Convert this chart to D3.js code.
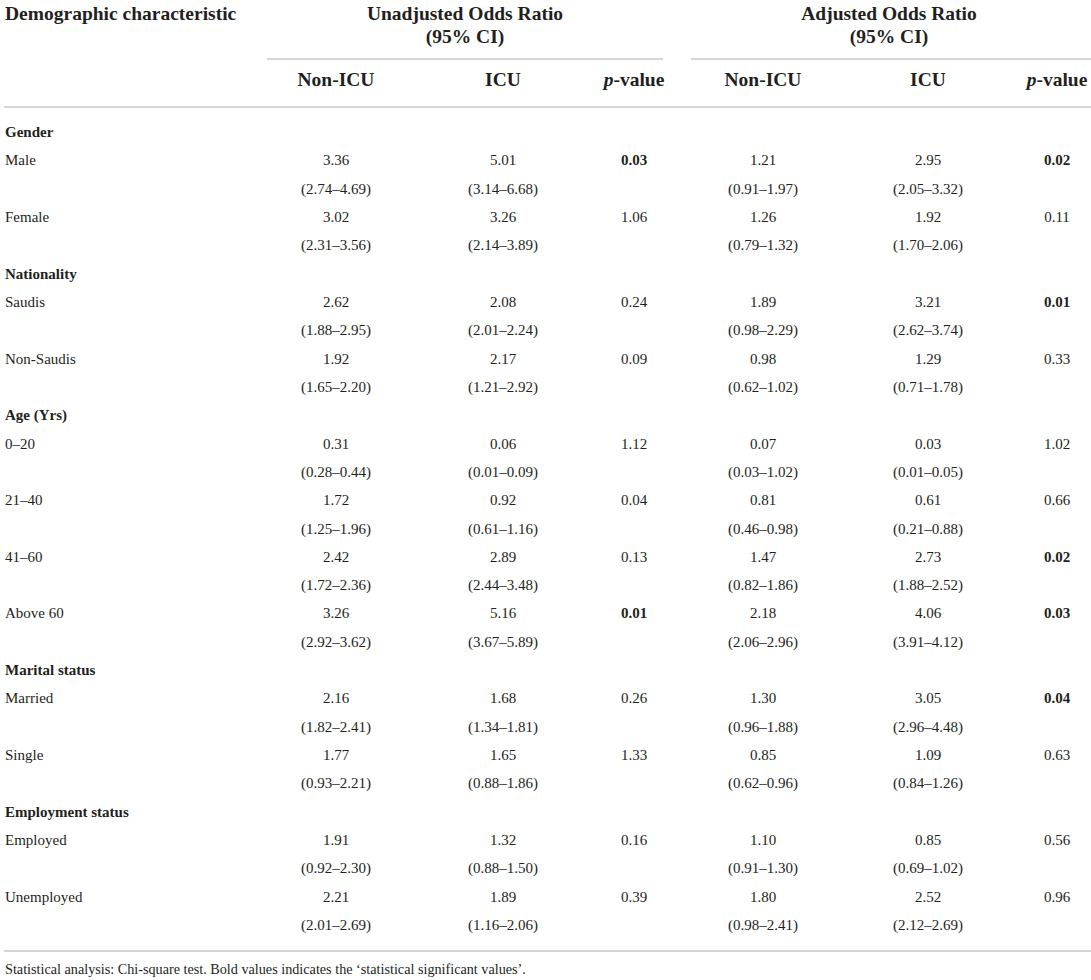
<!DOCTYPE html>
<html>
<head>
<meta charset="utf-8">
<script src="https://cdn.jsdelivr.net/npm/d3@7"></script>
<style>
  html, body { margin: 0; padding: 0; background: #fff; }
  svg { display: block; font-family: "Liberation Serif", "Times New Roman", serif; }
</style>
</head>
<body>
<div id="chart"></div>
<script>
// categories, grouped
const groupNames = ["Gender", "Nationality", "Age (Yrs)", "Marital status", "Employment status"];
const categories = ["Male", "Female", "Saudis", "Non-Saudis", "0–20", "21–40", "41–60", "Above 60",
  "Married", "Single", "Employed", "Unemployed"];
const categoryGroup = [0, 0, 1, 1, 2, 2, 2, 2, 3, 3, 4, 4];

// unadjusted odds ratio (95% CI)
const unadjNonIcu = [3.36, 3.02, 2.62, 1.92, 0.31, 1.72, 2.42, 3.26, 2.16, 1.77, 1.91, 2.21];
const unadjNonIcuCI = [[2.74, 4.69], [2.31, 3.56], [1.88, 2.95], [1.65, 2.20], [0.28, 0.44], [1.25, 1.96],
  [1.72, 2.36], [2.92, 3.62], [1.82, 2.41], [0.93, 2.21], [0.92, 2.30], [2.01, 2.69]];
const unadjIcu = [5.01, 3.26, 2.08, 2.17, 0.06, 0.92, 2.89, 5.16, 1.68, 1.65, 1.32, 1.89];
const unadjIcuCI = [[3.14, 6.68], [2.14, 3.89], [2.01, 2.24], [1.21, 2.92], [0.01, 0.09], [0.61, 1.16],
  [2.44, 3.48], [3.67, 5.89], [1.34, 1.81], [0.88, 1.86], [0.88, 1.50], [1.16, 2.06]];
const unadjP = [0.03, 1.06, 0.24, 0.09, 1.12, 0.04, 0.13, 0.01, 0.26, 1.33, 0.16, 0.39];
const unadjPBold = [true, false, false, false, false, false, false, true, false, false, false, false];

// adjusted odds ratio (95% CI)
const adjNonIcu = [1.21, 1.26, 1.89, 0.98, 0.07, 0.81, 1.47, 2.18, 1.30, 0.85, 1.10, 1.80];
const adjNonIcuCI = [[0.91, 1.97], [0.79, 1.32], [0.98, 2.29], [0.62, 1.02], [0.03, 1.02], [0.46, 0.98],
  [0.82, 1.86], [2.06, 2.96], [0.96, 1.88], [0.62, 0.96], [0.91, 1.30], [0.98, 2.41]];
const adjIcu = [2.95, 1.92, 3.21, 1.29, 0.03, 0.61, 2.73, 4.06, 3.05, 1.09, 0.85, 2.52];
const adjIcuCI = [[2.05, 3.32], [1.70, 2.06], [2.62, 3.74], [0.71, 1.78], [0.01, 0.05], [0.21, 0.88],
  [1.88, 2.52], [3.91, 4.12], [2.96, 4.48], [0.84, 1.26], [0.69, 1.02], [2.12, 2.69]];
const adjP = [0.02, 0.11, 0.01, 0.33, 1.02, 0.66, 0.02, 0.03, 0.04, 0.63, 0.56, 0.96];
const adjPBold = [true, false, true, false, false, false, true, true, true, false, false, false];

const footnote = "Statistical analysis: Chi-square test. Bold values indicates the ‘statistical significant values’.";

// ==================================================
// layout
// ==================================================
const width = 1091;
const height = 980;
const ink = "#231f20";
const rule = "#c9c9c9";
const fmt = d3.format(".2f");
const ciText = c => `(${fmt(c[0])}–${fmt(c[1])})`;

const colKeys = ["unNon", "unIcu", "unP", "adNon", "adIcu", "adP"];
const x = d3.scaleOrdinal().domain(colKeys).range([336, 503, 634, 763, 928, 1057]);

// build text lines: group header, then value line + CI line per category
const lines = [];
categories.forEach((cat, i) => {
  if (i === 0 || categoryGroup[i] !== categoryGroup[i - 1]) {
    lines.push({ type: "group", label: groupNames[categoryGroup[i]] });
  }
  lines.push({ type: "value", label: cat, i });
  lines.push({ type: "ci", i });
});

const y = d3.scaleLinear().domain([0, lines.length - 1]).range([132, 925]);

const svg = d3.select("#chart").append("svg")
  .attr("width", width)
  .attr("height", height)
  .attr("viewBox", `0 0 ${width} ${height}`);

// header
const head = svg.append("g")
  .attr("fill", ink)
  .attr("font-weight", "bold")
  .attr("font-size", 19.5)
  .attr("dominant-baseline", "central");

head.append("text").attr("x", 5).attr("y", 13).text("Demographic characteristic");

[{ label: "Unadjusted Odds Ratio", cx: 465, x1: 267, x2: 663 },
 { label: "Adjusted Odds Ratio", cx: 889, x1: 691, x2: 1091 }].forEach(g => {
  head.append("text").attr("x", g.cx).attr("y", 13).attr("text-anchor", "middle").text(g.label);
  head.append("text").attr("x", g.cx).attr("y", 36).attr("text-anchor", "middle").text("(95% CI)");
  svg.append("line")
    .attr("x1", g.x1).attr("x2", g.x2)
    .attr("y1", 59).attr("y2", 59)
    .attr("stroke", rule).attr("stroke-width", 1.6);
});

const subHeads = ["Non-ICU", "ICU", "p-value", "Non-ICU", "ICU", "p-value"];
colKeys.forEach((k, j) => {
  const t = head.append("text")
    .attr("x", x(k)).attr("y", 79)
    .attr("text-anchor", "middle");
  if (subHeads[j] === "p-value") {
    t.append("tspan").attr("font-style", "italic").text("p");
    t.append("tspan").text("-value");
  } else {
    t.text(subHeads[j]);
  }
});

[107, 951].forEach(yy => {
  svg.append("line")
    .attr("x1", 4).attr("x2", width)
    .attr("y1", yy).attr("y2", yy)
    .attr("stroke", rule).attr("stroke-width", 1.6);
});

// body
const body = svg.append("g")
  .attr("fill", ink)
  .attr("font-size", 15)
  .attr("dominant-baseline", "central");

lines.forEach((ln, r) => {
  const yy = y(r);
  if (ln.type === "group") {
    body.append("text").attr("x", 5).attr("y", yy)
      .attr("font-weight", "bold").text(ln.label);
    return;
  }
  const i = ln.i;
  let cells;
  if (ln.type === "value") {
    body.append("text").attr("x", 5).attr("y", yy).text(ln.label);
    cells = [
      { k: "unNon", t: fmt(unadjNonIcu[i]) },
      { k: "unIcu", t: fmt(unadjIcu[i]) },
      { k: "unP", t: fmt(unadjP[i]), b: unadjPBold[i] },
      { k: "adNon", t: fmt(adjNonIcu[i]) },
      { k: "adIcu", t: fmt(adjIcu[i]) },
      { k: "adP", t: fmt(adjP[i]), b: adjPBold[i] }
    ];
  } else {
    cells = [
      { k: "unNon", t: ciText(unadjNonIcuCI[i]) },
      { k: "unIcu", t: ciText(unadjIcuCI[i]) },
      { k: "adNon", t: ciText(adjNonIcuCI[i]) },
      { k: "adIcu", t: ciText(adjIcuCI[i]) }
    ];
  }
  cells.forEach(c => {
    body.append("text")
      .attr("x", x(c.k)).attr("y", yy)
      .attr("text-anchor", "middle")
      .attr("font-weight", c.b ? "bold" : null)
      .text(c.t);
  });
});

// footnote
svg.append("text")
  .attr("x", 5).attr("y", 969)
  .attr("fill", ink)
  .attr("font-size", 14.2)
  .attr("dominant-baseline", "central")
  .text(footnote);
</script>
</body>
</html>
